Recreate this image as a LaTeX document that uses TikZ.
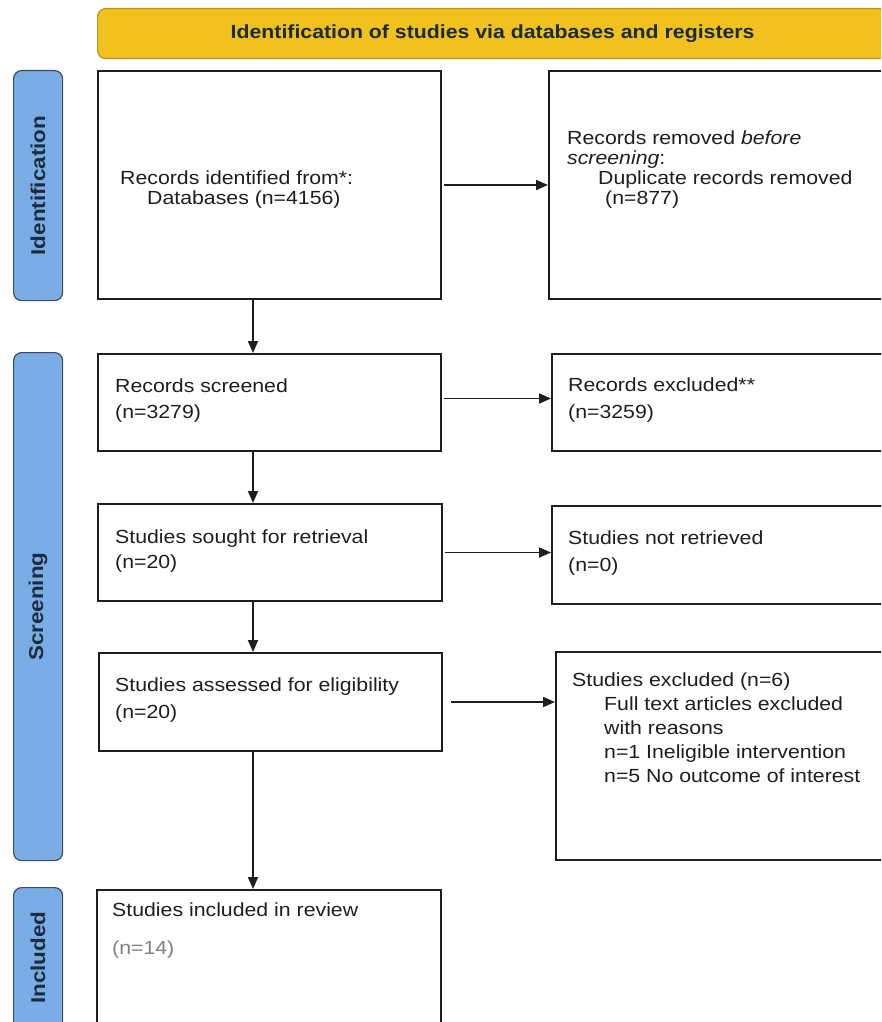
\documentclass[tikz,border=0pt]{standalone}
\usepackage{fontspec}
\setmainfont[FakeStretch=1.12]{Liberation Sans}
\usetikzlibrary{arrows.meta}
\definecolor{barblue}{HTML}{7AADE6}
\definecolor{barline}{HTML}{3E4C5E}
\definecolor{bangold}{HTML}{F3C11E}
\definecolor{banline}{HTML}{B89428}
\definecolor{inkgray}{HTML}{1E1E1E}
\definecolor{labelink}{HTML}{1C2B3C}
\newcommand{\fsz}[2]{\fontsize{#1}{#2}\selectfont}
\tikzset{
  box/.style={draw=inkgray, line width=2pt, anchor=north west, inner sep=0pt},
  txt/.style={anchor=north west, inner sep=0pt, align=left, text=inkgray},
  side/.style={draw=barline, line width=1.2pt, fill=barblue, rounded corners=8pt,
    anchor=north west, inner sep=0pt, minimum width=49pt},
  sidetxt/.style={rotate=90, text=labelink, font=\fsz{20}{22}\bfseries},
  arr/.style={draw=inkgray, line width=1.8pt, -{Triangle[length=12pt,width=10pt]}},
}
\begin{document}
\begin{tikzpicture}[x=1pt,y=-1pt]
\useasboundingbox (0,0) rectangle (881,1022);
\clip (0,0) rectangle (881,1022);
% banner
\node[anchor=north west, minimum width=790pt, minimum height=50pt, fill=bangold,
  draw=banline, line width=1.2pt, rounded corners=8pt, text=labelink,
  font=\fsz{19}{22}\bfseries] (banner) at (97,8)
  {Identification of studies via databases and registers};
% side bars
\node[side, minimum height=230pt] (idbar) at (13,70) {};
\node[sidetxt] (idlbl) at (idbar) {Identification};
\node[side, minimum height=508pt] (scbar) at (13,352) {};
\node[sidetxt] (sclbl) at (scbar) {Screening};
\node[side, minimum height=150pt] (inbar) at (13,887) {};
\node[sidetxt] (inlbl) at ([yshift=5pt]inbar.center) {Included};
% boxes
\node[box, minimum width=343pt, minimum height=228pt] (idbox) at (97,70) {};
\node[box, minimum width=360pt, minimum height=228pt] (rmbox) at (548,70) {};
\node[box, minimum width=343pt, minimum height=97pt] (scbox) at (97,353) {};
\node[box, minimum width=360pt, minimum height=97pt] (exbox) at (551,353) {};
\node[box, minimum width=344pt, minimum height=97pt] (skbox) at (97,503) {};
\node[box, minimum width=360pt, minimum height=98pt] (nrbox) at (551,505) {};
\node[box, minimum width=343pt, minimum height=98pt] (elbox) at (98,652) {};
\node[box, minimum width=360pt, minimum height=208pt] (erbox) at (555,651) {};
\node[box, minimum width=344pt, minimum height=145pt] (inbox) at (96,889) {};
% texts
\node[txt, font=\fsz{19}{20}] (idtxt) at (120,171)
  {Records identified from*:\\ \hspace*{27pt}Databases (n=4156)};
\node[txt, font=\fsz{19}{20}] (rmtxt) at (567,131)
  {Records removed \textit{before}\\ \textit{screening}:\\
   \hspace*{31pt}Duplicate records removed\\ \hspace*{38pt}(n=877)};
\node[txt, font=\fsz{19}{26}] (sctxt) at (115,379) {Records screened\\ (n=3279)};
\node[txt, font=\fsz{19}{27}] (extxt) at (568,378) {Records excluded**\\ (n=3259)};
\node[txt, font=\fsz{19}{25}] (sktxt) at (115,530) {Studies sought for retrieval\\ (n=20)};
\node[txt, font=\fsz{19}{27}] (nrtxt) at (568,531) {Studies not retrieved\\ (n=0)};
\node[txt, font=\fsz{19}{27}] (eltxt) at (115,678) {Studies assessed for eligibility\\ (n=20)};
\node[txt, font=\fsz{19}{24}] (ertxt) at (572,673)
  {Studies excluded (n=6)\\ \hspace*{32pt}Full text articles excluded\\
   \hspace*{32pt}with reasons\\ \hspace*{32pt}n=1 Ineligible intervention\\
   \hspace*{32pt}n=5 No outcome of interest};
\node[txt, font=\fsz{19}{38}] (intxt) at (112,903)
  {Studies included in review\\ \textcolor{gray}{(n=14)}};
% arrows
\coordinate (ax) at (253,0);
\draw[arr] (idbox.south -| ax) -- (scbox.north -| ax);
\draw[arr] (scbox.south -| ax) -- (skbox.north -| ax);
\draw[arr] (skbox.south -| ax) -- (elbox.north -| ax);
\draw[arr] (elbox.south -| ax) -- (inbox.north -| ax);
\draw[arr, shorten <=2pt] (idbox.east) -- (rmbox.west);
\draw[arr, shorten <=2pt] ([yshift=4pt]scbox.east) -- ([yshift=4pt]scbox.east -| exbox.west);
\draw[arr, shorten <=2pt] (skbox.east) -- (skbox.east -| nrbox.west);
\draw[arr, shorten <=8pt] (elbox.east) -- (elbox.east -| erbox.west);
\end{tikzpicture}
\end{document}
